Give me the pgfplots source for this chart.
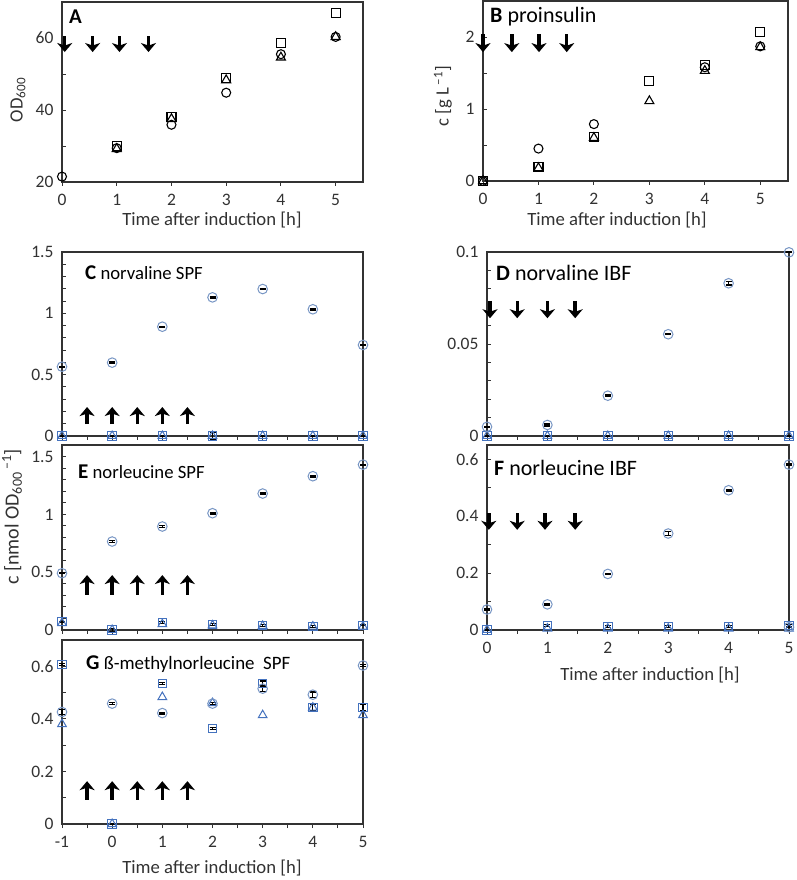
\documentclass[border=0pt]{standalone}
\usepackage{fontspec}
\setmainfont{Carlito}
\usepackage{pgfplots}
\pgfplotsset{compat=1.18}
\usetikzlibrary{arrows.meta}
\definecolor{sqblue}{RGB}{68,114,190}
\definecolor{ciblue}{RGB}{120,150,196}
\definecolor{txt}{RGB}{50,50,50}
\pgfplotsset{
  base/.style={
    scale only axis, clip=false,
    axis line style={line width=1.1pt, black!80},
    every tick/.style={black!80, line width=0.9pt},
    xtick pos=left, ytick pos=left,
    xtick align=outside, ytick align=inside,
    major tick length=4pt, minor tick length=4pt,
    tick label style={font=\fontsize{17.5}{20}\selectfont, text=txt},
    xticklabel style={yshift=-5pt},
    yticklabel style={xshift=-5pt, /pgf/number format/fixed},
    /pgf/number format/assume math mode=true,
    scaled ticks=false,
  },
  bsq/.style={only marks, black, line width=1.1pt, mark=square, mark size=4.5pt},
  bci/.style={only marks, black, line width=1.1pt, mark=o, mark size=4.5pt},
  btr/.style={only marks, black, line width=1.1pt, mark=triangle, mark size=5.2pt},
  usq/.style={only marks, sqblue, line width=1pt, mark=square, mark size=4.2pt,
     error bars/.cd, y dir=both, y explicit, error bar style={black, line width=1.1pt},
     error mark options={black, rotate=90, mark size=3pt, line width=1.1pt}},
  uci/.style={only marks, ciblue, line width=1pt, mark=o, mark size=4.8pt,
     error bars/.cd, y dir=both, y explicit, error bar style={black, line width=1.1pt},
     error mark options={black, rotate=90, mark size=3pt, line width=1.3pt}},
  utr/.style={only marks, sqblue, line width=1pt, mark=triangle, mark size=5pt},
  arr/.style={black, line width=3.4pt, -{Stealth[length=9pt,width=15pt,inset=2.5pt]}},
}
\begin{document}
\begin{tikzpicture}
\useasboundingbox (0,0) rectangle (796pt,880pt);

% ---------------- A ----------------
\begin{axis}[base, at={(62pt,698pt)}, anchor=south west, width=301pt, height=180pt,
  xmin=0, xmax=5.5, ymin=20, ymax=70, xtick={0,...,5}, ytick={20,40,60}, minor ytick={30,50}]
\addplot[bsq] coordinates {(1,29.9) (2,38.1) (3,48.8) (4,58.5) (5,67.0)};
\addplot[btr] coordinates {(1,29.2) (2,37.5) (3,48.3) (4,54.6) (5,60.3)};
\addplot[bci] coordinates {(0,21.5) (1,29.4) (2,35.9) (3,44.8) (4,55.5) (5,60.3)};
\addplot[arr, quiver={u=0,v=-4.4}] coordinates {(0.05,60.5) (0.56,60.5) (1.05,60.5) (1.58,60.5)};
\end{axis}

% ---------------- B ----------------
\begin{axis}[base, at={(483pt,699pt)}, anchor=south west, width=305pt, height=180pt,
  xmin=0, xmax=5.5, ymin=0, ymax=2.5, xtick={0,...,5}, ytick={0,1,2}, minor ytick={0.5,1.5}]
\addplot[bsq] coordinates {(0,0) (1,0.2) (2,0.61) (3,1.39) (4,1.61) (5,2.07)};
\addplot[btr] coordinates {(0,0) (1,0.18) (2,0.6) (3,1.11) (4,1.53) (5,1.86)};
\addplot[bci] coordinates {(0,0) (1,0.45) (2,0.79) (4,1.58) (5,1.87)};
\addplot[arr, quiver={u=0,v=-0.25}] coordinates {(0,2.04) (0.52,2.04) (1.01,2.04) (1.51,2.04)};
\end{axis}

% ---------------- C ----------------
\begin{axis}[base, at={(62pt,444pt)}, anchor=south west, width=301pt, height=184pt,
  xmin=-1, xmax=5, ymin=0, ymax=1.5, xtick={-1,...,5}, xticklabels={}, minor x tick num=1,
  ytick={0,0.5,1,1.5}, minor y tick num=4]
\addplot[usq] coordinates {(-1,0) +- (0,0) (0,0) +- (0,0) (1,0) +- (0,0) (2,0.0) +- (0,0.03) (3,0) +- (0,0) (4,0) +- (0,0) (5,0) +- (0,0)};
\addplot[utr] coordinates {(-1,0) (0,0) (1,0) (2,0) (3,0) (4,0) (5,0)};
\addplot[uci] coordinates {(-1,0.565) +- (0,0.004) (0,0.598) +- (0,0.006) (1,0.891) +- (0,0.004) (2,1.13) +- (0,0.004) (3,1.198) +- (0,0.004) (4,1.033) +- (0,0.006) (5,0.742) +- (0,0.004)};
\addplot[arr, quiver={u=0,v=0.14}] coordinates {(-0.5,0.096) (0,0.096) (0.5,0.096) (1,0.096) (1.5,0.096)};
\end{axis}

% ---------------- D ----------------
\begin{axis}[base, at={(487pt,444pt)}, anchor=south west, width=302pt, height=184pt,
  xmin=0, xmax=5, ymin=0, ymax=0.1, xtick={0,...,5}, xticklabels={}, minor x tick num=1,
  ytick={0,0.05,0.1}, minor y tick num=4,
  yticklabel style={/pgf/number format/precision=2}]
\addplot[usq] coordinates {(0,0) +- (0,0) (1,0) +- (0,0) (2,0) +- (0,0) (3,0) +- (0,0) (4,0) +- (0,0) (5,0) +- (0,0)};
\addplot[utr] coordinates {(0,0) (1,0) (2,0) (3,0) (4,0) (5,0)};
\addplot[uci] coordinates {(0,0.005) +- (0,0.0003) (1,0.006) +- (0,0.0005) (2,0.0219) +- (0,0.0003) (3,0.0553) +- (0,0.0003) (4,0.083) +- (0,0.001) (5,0.0998) +- (0,0.0002)};
\addplot[arr, quiver={u=0,v=-0.0095}] coordinates {(0.05,0.0735) (0.5,0.0735) (1.0,0.0735) (1.46,0.0735)};
\end{axis}

% ---------------- E ----------------
\begin{axis}[base, at={(62pt,250pt)}, anchor=south west, width=301pt, height=185pt,
  xmin=-1, xmax=5, ymin=0, ymax=1.6, xtick={-1,...,5}, xticklabels={}, minor x tick num=1,
  ytick={0,0.5,1,1.5}, minor y tick num=4]
\addplot[usq] coordinates {(-1,0.072) +- (0,0.005) (0,0.0) +- (0,0.01) (1,0.063) +- (0,0.01) (2,0.05) +- (0,0.01) (3,0.04) +- (0,0.008) (4,0.03) +- (0,0.005) (5,0.04) +- (0,0.005)};
\addplot[utr] coordinates {(-1,0.06) (0,0.0) (1,0.05) (2,0.04) (3,0.035) (4,0.03) (5,0.03)};
\addplot[uci] coordinates {(-1,0.491) +- (0,0.003) (0,0.765) +- (0,0.006) (1,0.895) +- (0,0.006) (2,1.01) +- (0,0.006) (3,1.18) +- (0,0.004) (4,1.33) +- (0,0.006) (5,1.43) +- (0,0.004)};
\addplot[arr, quiver={u=0,v=0.17}] coordinates {(-0.5,0.305) (0,0.305) (0.5,0.305) (1,0.305) (1.5,0.305)};
\end{axis}

% ---------------- F ----------------
\begin{axis}[base, at={(487pt,250pt)}, anchor=south west, width=302pt, height=185pt,
  xmin=0, xmax=5, ymin=0, ymax=0.65, xtick={0,...,5}, minor x tick num=1,
  ytick={0,0.2,0.4,0.6}, minor y tick num=1]
\addplot[usq] coordinates {(0,0.0) +- (0,0.002) (1,0.015) +- (0,0.003) (2,0.012) +- (0,0.003) (3,0.012) +- (0,0.003) (4,0.012) +- (0,0.003) (5,0.015) +- (0,0.003)};
\addplot[utr] coordinates {(0,0) (1,0.005) (2,0.005) (3,0.005) (4,0.005) (5,0.005)};
\addplot[uci] coordinates {(0,0.072) +- (0,0.002) (1,0.09) +- (0,0.002) (2,0.197) +- (0,0.002) (3,0.339) +- (0,0.006) (4,0.491) +- (0,0.003) (5,0.581) +- (0,0.002) (5,0.01) +- (0,0.002)};
\addplot[arr, quiver={u=0,v=-0.058}] coordinates {(0.03,0.41) (0.5,0.41) (0.96,0.41) (1.46,0.41)};
\end{axis}

% ---------------- G ----------------
\begin{axis}[base, at={(62pt,56pt)}, anchor=south west, width=301pt, height=184pt,
  xmin=-1, xmax=5, ymin=0, ymax=0.7, xtick={-1,...,5}, minor x tick num=1,
  ytick={0,0.2,0.4,0.6}, minor y tick num=1]
\addplot[usq] coordinates {(-1,0.607) +- (0,0.003) (0,0.0) +- (0,0.003) (1,0.534) +- (0,0.003) (2,0.363) +- (0,0.003) (3,0.534) +- (0,0.01) (4,0.443) +- (0,0.01) (5,0.443) +- (0,0.01)};
\addplot[utr] coordinates {(-1,0.38) (0,0.0) (1,0.483) (2,0.46) (3,0.414) (4,0.443) (5,0.414)};
\addplot[uci] coordinates {(-1,0.426) +- (0,0.01) (0,0.458) +- (0,0.003) (1,0.422) +- (0,0.003) (2,0.458) +- (0,0.003) (3,0.515) +- (0,0.01) (4,0.492) +- (0,0.01) (5,0.603) +- (0,0.003)};
\addplot[arr, quiver={u=0,v=0.07}] coordinates {(-0.5,0.093) (0,0.093) (0.5,0.093) (1,0.093) (1.5,0.093)};
\end{axis}

% ---------------- panel titles ----------------
\node[anchor=west, inner sep=0] at (69pt,863pt) {\fontsize{21}{24}\selectfont\bfseries A};
\node[anchor=west, inner sep=0] at (490pt,863pt) {\fontsize{22}{25}\selectfont\textbf{B} proinsulin};
\node[anchor=west, inner sep=0] at (85pt,607pt) {\fontsize{18.7}{22}\selectfont{\fontsize{21}{24}\selectfont\bfseries C} norvaline SPF};
\node[anchor=west, inner sep=0] at (496pt,607pt) {\fontsize{22}{25}\selectfont\textbf{D} norvaline IBF};
\node[anchor=west, inner sep=0] at (78pt,408pt) {\fontsize{18.7}{22}\selectfont{\fontsize{21}{24}\selectfont\bfseries E} norleucine SPF};
\node[anchor=west, inner sep=0] at (494pt,412pt) {\fontsize{22}{25}\selectfont\textbf{F} norleucine IBF};
\node[anchor=west, inner sep=0] at (86pt,216pt) {\fontsize{18.9}{22}\selectfont{\fontsize{21}{24}\selectfont\bfseries G} ß-methylnorleucine\ \ SPF};

% ---------------- axis labels ----------------
\node[text=txt] at (212pt,660pt) {\fontsize{18.7}{22}\selectfont Time after induction [h]};
\node[text=txt] at (617pt,660pt) {\fontsize{18.7}{22}\selectfont Time after induction [h]};
\node[text=txt] at (650pt,205pt) {\fontsize{18.7}{22}\selectfont Time after induction [h]};
\node[text=txt] at (212pt,12pt) {\fontsize{18.7}{22}\selectfont Time after induction [h]};
\node[text=txt, rotate=90] at (18pt,780pt) {\fontsize{18.7}{22}\selectfont OD\textsubscript{600}};
\node[text=txt, rotate=90] at (443pt,784pt) {\fontsize{18.7}{22}\selectfont c [g L\textsuperscript{\,–1}]};
\node[text=txt, rotate=90] at (12pt,363pt) {\fontsize{20}{22}\selectfont c [nmol OD\textsubscript{600}\textsuperscript{\,–1}]};
\end{tikzpicture}
\end{document}
